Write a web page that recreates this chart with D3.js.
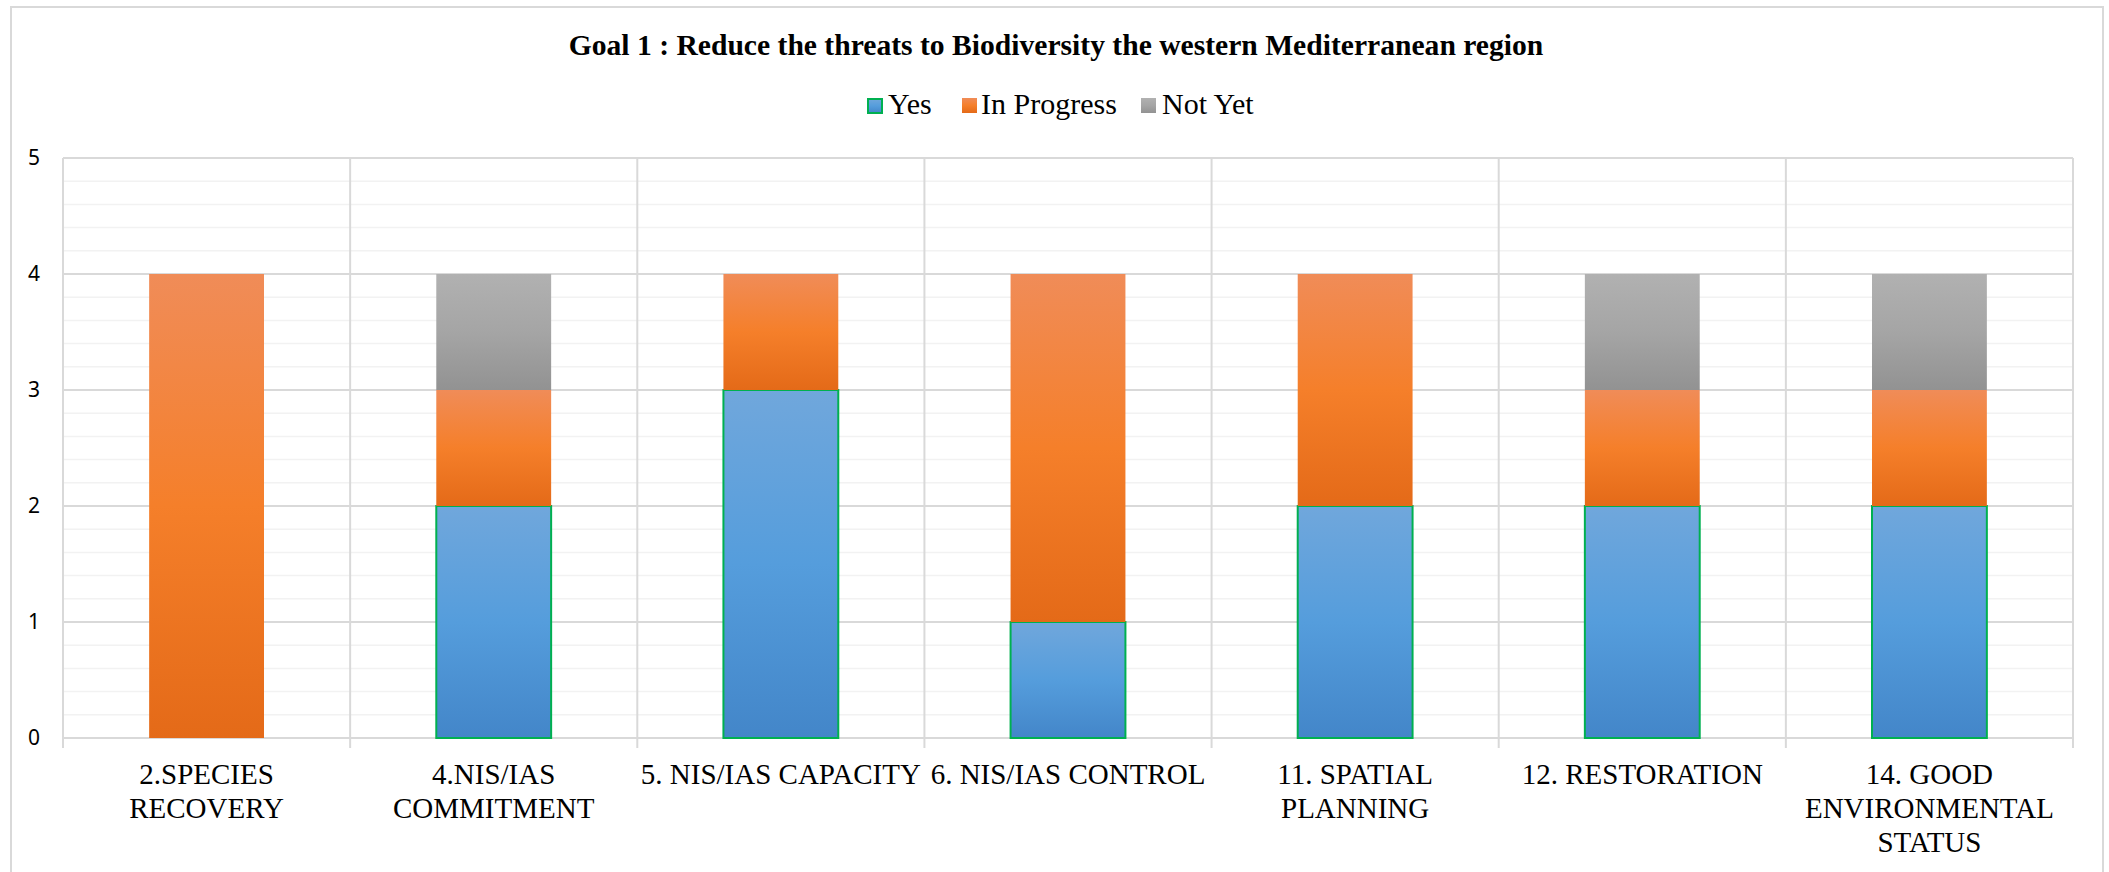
<!DOCTYPE html>
<html>
<head>
<meta charset="utf-8">
<script src="https://cdn.jsdelivr.net/npm/d3@7"></script>
<style>
  body { margin: 0; background: #fff; }
</style>
</head>
<body>
<div id="chart"></div>
<script>
var categories = [
  "2.SPECIES RECOVERY",
  "4.NIS/IAS COMMITMENT",
  "5. NIS/IAS CAPACITY",
  "6. NIS/IAS CONTROL",
  "11. SPATIAL PLANNING",
  "12. RESTORATION",
  "14. GOOD ENVIRONMENTAL STATUS"
];
var labelLines = [
  ["2.SPECIES", "RECOVERY"],
  ["4.NIS/IAS", "COMMITMENT"],
  ["5. NIS/IAS CAPACITY"],
  ["6. NIS/IAS CONTROL"],
  ["11. SPATIAL", "PLANNING"],
  ["12. RESTORATION"],
  ["14. GOOD", "ENVIRONMENTAL", "STATUS"]
];
var seriesNames = ["Yes", "In Progress", "Not Yet"];
var yesValues = [0, 2, 3, 1, 2, 2, 2];
var inProgressValues = [4, 1, 1, 3, 2, 1, 1];
var notYetValues = [0, 1, 0, 0, 0, 1, 1];
var yTicks = [0, 1, 2, 3, 4, 5];
var title = "Goal 1 : Reduce the threats to Biodiversity the western Mediterranean region";

function buildChart(id) {
  var width = 2109;
  var height = 872;

  var margin = { top: 158, right: 36, bottom: 134, left: 63 };
  var innerWidth = width - margin.left - margin.right;
  var innerHeight = height - margin.top - margin.bottom;

  var svg = d3.select(id).append("svg").attr("width", width).attr("height", height);

  // gradients, one per series
  var grads = {
    "Yes": [["0%", "#70a7dc"], ["50%", "#559ddc"], ["100%", "#4386c9"]],
    "In Progress": [["0%", "#f08c58"], ["50%", "#f57f2a"], ["100%", "#e46a18"]],
    "Not Yet": [["0%", "#b1b1b1"], ["50%", "#a5a5a5"], ["100%", "#929292"]]
  };
  var defs = svg.append("defs");
  seriesNames.forEach(function (s, i) {
    var lg = defs.append("linearGradient").attr("id", "grad" + i)
      .attr("x1", 0).attr("y1", 0).attr("x2", 0).attr("y2", 1);
    grads[s].forEach(function (st) {
      lg.append("stop").attr("offset", st[0]).attr("stop-color", st[1]);
    });
  });

  // outer chart border
  svg.append("rect")
    .attr("x", 11).attr("y", 7)
    .attr("width", 2092).attr("height", 900)
    .attr("fill", "none").attr("stroke", "#d9d9d9").attr("stroke-width", 2);

  svg.append("text")
    .attr("x", 1056).attr("y", 55)
    .attr("text-anchor", "middle")
    .style("font-family", "'Liberation Serif', 'Times New Roman', serif")
    .style("font-weight", "bold")
    .style("font-size", "29.6px")
    .text(title);

  var g = svg.append("g").attr("transform", "translate(" + margin.left + "," + margin.top + ")");

  var rows = categories.map(function (c, i) {
    return { cat: c, "Yes": yesValues[i], "In Progress": inProgressValues[i], "Not Yet": notYetValues[i] };
  });
  var stacked = d3.stack().keys(seriesNames)(rows);

  var xCat = d3.scaleBand().domain(categories).range([0, innerWidth]).padding(0);
  var x = d3.scaleBand().domain(categories).range([0, innerWidth]).paddingInner(0.6).paddingOuter(0.3);
  var y = d3.scaleLinear().domain([0, 5]).range([innerHeight, 0]);

  // minor gridlines
  g.append("g").selectAll("line")
    .data(d3.range(0, 5.01, 0.2).filter(function (v) { return Math.abs(v - Math.round(v)) > 0.01; }))
    .enter().append("line")
    .attr("x1", 0).attr("x2", innerWidth)
    .attr("y1", function (d) { return y(d); }).attr("y2", function (d) { return y(d); })
    .attr("stroke", "#f2f2f2").attr("stroke-width", 1.5);

  // major gridlines
  g.append("g").selectAll("line")
    .data(yTicks)
    .enter().append("line")
    .attr("x1", 0).attr("x2", innerWidth)
    .attr("y1", function (d) { return y(d); }).attr("y2", function (d) { return y(d); })
    .attr("stroke", "#d9d9d9").attr("stroke-width", 2);

  // vertical category separators (with tick below axis)
  var seps = categories.map(function (c) { return xCat(c); }).concat([innerWidth]);
  g.append("g").selectAll("line")
    .data(seps)
    .enter().append("line")
    .attr("x1", function (d) { return d; }).attr("x2", function (d) { return d; })
    .attr("y1", 0).attr("y2", innerHeight + 10)
    .attr("stroke", "#d9d9d9").attr("stroke-width", 2);

  // y labels
  g.append("g").selectAll("text")
    .data(yTicks)
    .enter().append("text")
    .attr("x", -23).attr("y", function (d) { return y(d); })
    .attr("dy", "0.35em")
    .attr("text-anchor", "end")
    .style("font-family", "'Noto Sans', 'Open Sans', sans-serif")
    .style("font-size", "21px")
    .attr("fill", "#000")
    .text(function (d) { return d; });

  // bars
  stacked.forEach(function (layer, si) {
    g.append("g").selectAll("rect")
      .data(layer.filter(function (d) { return d[1] - d[0] > 0; }))
      .enter().append("rect")
      .attr("x", function (d) { return x(d.data.cat); })
      .attr("y", function (d) { return y(d[1]); })
      .attr("width", x.bandwidth())
      .attr("height", function (d) { return y(d[0]) - y(d[1]); })
      .attr("fill", "url(#grad" + si + ")")
      .attr("stroke", si === 0 ? "#00b050" : "none")
      .attr("stroke-width", si === 0 ? 2 : 0);
  });

  // x labels
  var xl = g.append("g").selectAll("text")
    .data(categories)
    .enter().append("text")
    .attr("text-anchor", "middle")
    .style("font-family", "'Liberation Serif', 'Times New Roman', serif")
    .style("font-size", "29px")
    .attr("fill", "#000");
  xl.each(function (c, i) {
    var t = d3.select(this);
    labelLines[i].forEach(function (line, li) {
      t.append("tspan")
        .attr("x", xCat(c) + xCat.bandwidth() / 2)
        .attr("y", innerHeight + 46 + li * 34)
        .text(line);
    });
  });

  // legend
  var swatchX = [867, 962, 1141];
  var textX = [888, 981, 1162];
  var legend = svg.append("g");
  seriesNames.forEach(function (s, i) {
    legend.append("rect")
      .attr("x", swatchX[i] + (i === 0 ? 1 : 0)).attr("y", i === 0 ? 99 : 98)
      .attr("width", i === 0 ? 14 : 15).attr("height", i === 0 ? 14 : 15)
      .attr("fill", "url(#grad" + i + ")")
      .attr("stroke", i === 0 ? "#00b050" : "none")
      .attr("stroke-width", i === 0 ? 2 : 0);
    legend.append("text")
      .attr("x", textX[i]).attr("y", 114)
      .style("font-family", "'Liberation Serif', 'Times New Roman', serif")
      .style("font-size", "30px")
      .text(s);
  });
}

buildChart("#chart");
</script>
</body>
</html>
